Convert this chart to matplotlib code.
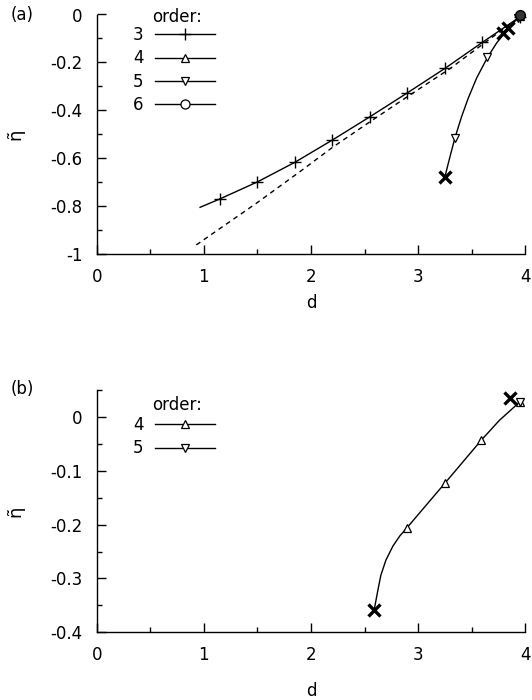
"""
Two-panel eta-tilde vs d chart, orders of the expansion.
"""

import matplotlib
matplotlib.use("Agg")
import matplotlib.pyplot as plt
from matplotlib.lines import Line2D
from matplotlib.ticker import MultipleLocator, FuncFormatter

plt.rcParams['font.family'] = ['DejaVu Sans']
plt.rcParams['axes.unicode_minus'] = False

# --- panel (a) data ---
a_o3_line_d = [0.965, 1.15, 1.50, 1.85, 2.20, 2.55, 2.90, 3.25, 3.60, 3.95]
a_o3_line_eta = [-0.805, -0.770, -0.699, -0.617, -0.524, -0.427, -0.327, -0.225, -0.116, -0.010]
a_o3_mark_d = [1.15, 1.50, 1.85, 2.20, 2.55, 2.90, 3.25, 3.60, 3.95]
a_o3_mark_eta = [-0.770, -0.699, -0.617, -0.524, -0.427, -0.327, -0.225, -0.116, -0.010]

a_dash_d = [0.93, 1.50, 1.90, 2.20, 2.55, 2.90, 3.30, 3.60, 3.95]
a_dash_eta = [-0.962, -0.785, -0.655, -0.555, -0.448, -0.343, -0.225, -0.125, -0.010]

a_o5_line_d = [3.25, 3.297, 3.342, 3.405, 3.467, 3.545, 3.647, 3.731, 3.809, 3.93]
a_o5_line_eta = [-0.677, -0.594, -0.517, -0.427, -0.350, -0.266, -0.179, -0.120, -0.076, -0.015]
a_o5_mark_d = [3.342, 3.647, 3.93]
a_o5_mark_eta = [-0.517, -0.179, -0.015]

a_o4_mark_d = [3.95]
a_o4_mark_eta = [-0.008]
a_o6_mark_d = [3.95]
a_o6_mark_eta = [-0.004]

a_cross_d = [3.25, 3.79, 3.84]
a_cross_eta = [-0.677, -0.078, -0.058]

# --- panel (b) data ---
b_o4_line_d = [2.59, 2.624, 2.652, 2.699, 2.764, 2.829, 2.895, 3.25, 3.59, 3.76, 3.95]
b_o4_line_eta = [-0.358, -0.322, -0.294, -0.266, -0.240, -0.221, -0.206, -0.123, -0.043, -0.006, 0.028]
b_o4_mark_d = [2.895, 3.25, 3.59, 3.95]
b_o4_mark_eta = [-0.206, -0.123, -0.043, 0.028]
b_o5_mark_d = [3.95]
b_o5_mark_eta = [0.028]
b_cross_d = [2.59, 3.855]
b_cross_eta = [-0.358, 0.035]

fig = plt.figure(figsize=(5.32, 7.0), dpi=100)
W, H = 532.0, 700.0
FS = 12


def make_axes(left, top, right, bottom):
    return fig.add_axes([left / W, 1 - bottom / H, (right - left) / W, (bottom - top) / H])


def style_axes(ax, ymaj, ymin):
    for s in ('top', 'right'):
        ax.spines[s].set_visible(False)
    for s in ('left', 'bottom'):
        ax.spines[s].set_linewidth(1.0)
    ax.xaxis.set_major_locator(MultipleLocator(1))
    ax.xaxis.set_minor_locator(MultipleLocator(0.5))
    ax.yaxis.set_major_locator(MultipleLocator(ymaj))
    ax.yaxis.set_minor_locator(MultipleLocator(ymin))
    ax.tick_params(which='both', direction='in', top=False, right=False, labelsize=FS)
    ax.tick_params(which='major', length=6.5, width=1.0)
    ax.tick_params(which='minor', length=3.5, width=1.0)
    ax.tick_params(axis='x', pad=10)
    ax.tick_params(axis='y', pad=10)
    fmt = FuncFormatter(lambda v, p: '%g' % round(v, 6))
    ax.xaxis.set_major_formatter(fmt)
    ax.yaxis.set_major_formatter(fmt)


lw = 1.0
tri_kw = dict(markersize=6, markerfacecolor='white', markeredgecolor='black',
              markeredgewidth=0.9, linestyle='none', clip_on=False)

# ---------------- panel (a) ----------------
ax1 = make_axes(96.7, 14.5, 525.3, 254)
style_axes(ax1, 0.2, 0.1)
ax1.set_xlim(0, 4)
ax1.set_ylim(-1, 0)

ax1.plot(a_dash_d, a_dash_eta, color='black', lw=lw, linestyle=(0, (3.5, 3)))
ax1.plot(a_o3_line_d, a_o3_line_eta, color='black', lw=lw)
ax1.plot(a_o3_mark_d, a_o3_mark_eta, marker='+', markersize=9, markeredgewidth=1.0,
         color='black', linestyle='none', clip_on=False)
ax1.plot(a_o5_line_d, a_o5_line_eta, color='black', lw=lw)
ax1.plot(a_o5_mark_d, a_o5_mark_eta, marker='v', **tri_kw)
ax1.plot(a_o4_mark_d, a_o4_mark_eta, marker='^', **tri_kw)
ax1.plot(a_o6_mark_d, a_o6_mark_eta, marker='o', markersize=7, markerfacecolor='#333333',
         markeredgecolor='black', linestyle='none', clip_on=False)
ax1.plot(a_cross_d, a_cross_eta, marker='x', markersize=8, markeredgewidth=2.4,
         color='black', linestyle='none', clip_on=False)

ax1.set_xlabel('d', fontsize=FS, labelpad=6)
ax1.set_ylabel('η̃', fontsize=FS + 1, labelpad=19)

handles_a = [
    Line2D([], [], color='black', lw=lw, marker='+', markersize=9, markeredgewidth=1.0),
    Line2D([], [], color='black', lw=lw, marker='^', markersize=6, markerfacecolor='white', markeredgewidth=0.9),
    Line2D([], [], color='black', lw=lw, marker='v', markersize=6, markerfacecolor='white', markeredgewidth=0.9),
    Line2D([], [], color='black', lw=lw, marker='o', markersize=6.5, markerfacecolor='white', markeredgewidth=0.9),
]
leg_kw = dict(markerfirst=False, frameon=False, fontsize=FS,
              handlelength=3.6, handletextpad=0.7, labelspacing=0.32, borderpad=0,
              borderaxespad=0, loc='upper left')
ax1.legend(handles_a, ['3', '4', '5', '6'],
           bbox_to_anchor=(133 / W, 1 - 26 / H), bbox_transform=fig.transFigure, **leg_kw)
fig.text(177.5 / W, 1 - 22 / H, 'order:', fontsize=FS, ha='center', va='baseline')

# ---------------- panel (b) ----------------
ax2 = make_axes(96.7, 390, 525.3, 632.3)
style_axes(ax2, 0.1, 0.05)
ax2.set_xlim(0, 4)
ax2.set_ylim(-0.4, 0.05)

ax2.plot(b_o4_line_d, b_o4_line_eta, color='black', lw=lw)
ax2.plot(b_o4_mark_d, b_o4_mark_eta, marker='^', **tri_kw)
ax2.plot(b_o5_mark_d, b_o5_mark_eta, marker='v', **tri_kw)
ax2.plot(b_cross_d, b_cross_eta, marker='x', markersize=8, markeredgewidth=2.4,
         color='black', linestyle='none', clip_on=False)

ax2.set_xlabel('d', fontsize=FS, labelpad=13)
ax2.set_ylabel('η̃', fontsize=FS + 1, labelpad=19)

ax2.legend(handles_a[1:3], ['4', '5'],
           bbox_to_anchor=(133 / W, 1 - 416 / H), bbox_transform=fig.transFigure, **leg_kw)
fig.text(177.5 / W, 1 - 410 / H, 'order:', fontsize=FS, ha='center', va='baseline')

fig.text(22 / W, 1 - 15 / H, '(a)', fontsize=FS, ha='center', va='center')
fig.text(22 / W, 1 - 389 / H, '(b)', fontsize=FS, ha='center', va='center')

fig.savefig('out.png', dpi=100)
